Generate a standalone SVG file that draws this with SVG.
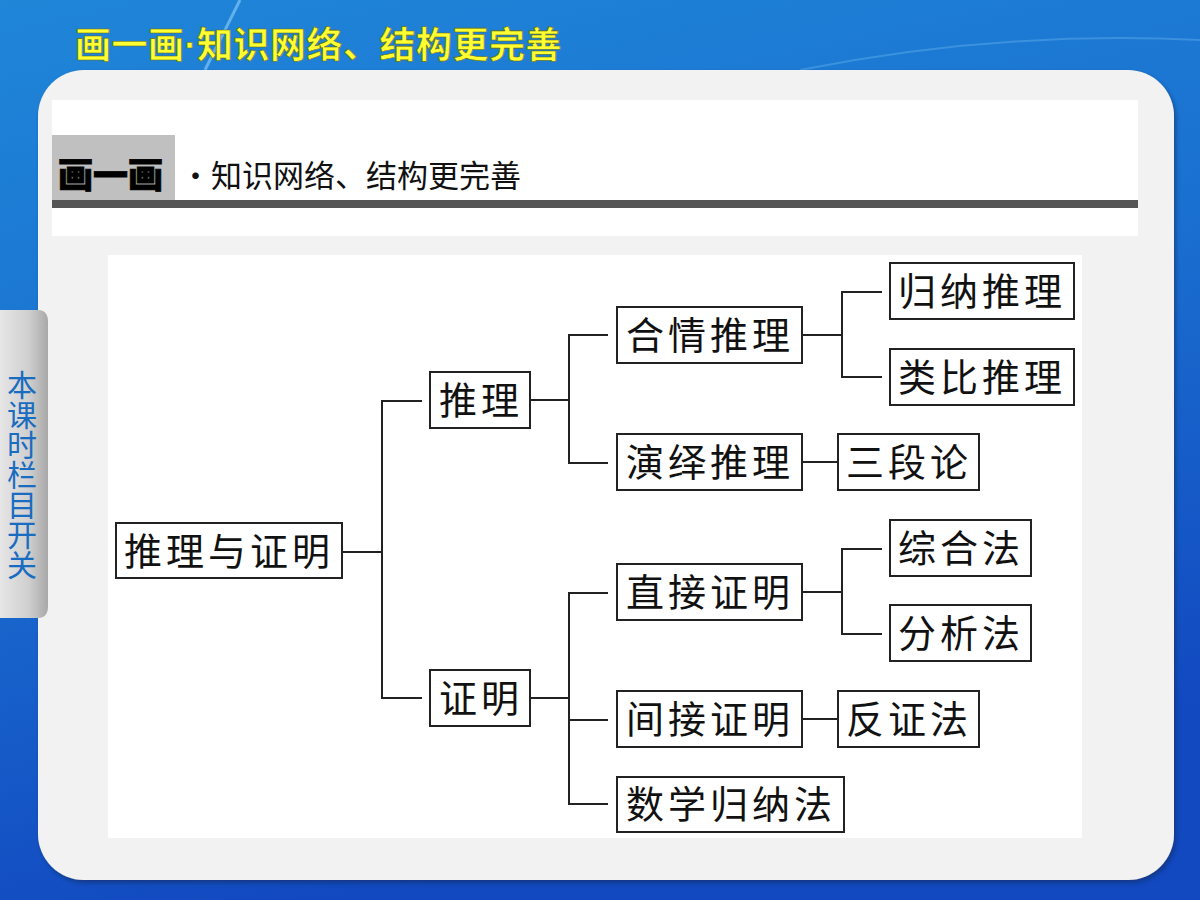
<svg xmlns="http://www.w3.org/2000/svg" width="1200" height="900" viewBox="0 0 1200 900">
<defs>
<linearGradient id="bg" x1="0" y1="0" x2="0.3" y2="1">
<stop offset="0" stop-color="#1f86d8"/>
<stop offset="0.5" stop-color="#1a6fd0"/>
<stop offset="1" stop-color="#1248c0"/>
</linearGradient>
<linearGradient id="tab" x1="0" y1="0" x2="1" y2="0">
<stop offset="0" stop-color="#e6e6e6"/>
<stop offset="0.6" stop-color="#cfcfcf"/>
<stop offset="1" stop-color="#a8a8a8"/>
</linearGradient>
<filter id="sh" x="-5%" y="-5%" width="110%" height="110%">
<feDropShadow dx="2" dy="3" stdDeviation="2" flood-color="#0a2a60" flood-opacity="0.6"/>
</filter>
<style>
.box{fill:#fff;stroke:#222;stroke-width:2}
.t{font-family:"Noto Sans CJK SC","Noto Sans",sans-serif;font-size:38px;fill:#111;letter-spacing:4px}
.c{stroke:#222;stroke-width:2;fill:none}
</style>
</defs>
<rect width="1200" height="900" fill="url(#bg)"/>
<path d="M240 0 L205 70" stroke="#7fc4f5" stroke-width="3" opacity="0.7"/>
<path d="M800 70 Q1000 30 1200 40" stroke="#5aaae8" stroke-width="2" fill="none" opacity="0.5"/>
<text x="75" y="58" font-family="'Noto Sans CJK SC',sans-serif" font-size="36" font-weight="bold" letter-spacing="0.5" fill="#ffff33" stroke="#6a6a00" stroke-width="0.6">画一画<tspan font-family="'Liberation Sans',sans-serif">·</tspan>知识网络、结构更完善</text>
<rect x="38" y="70" width="1136" height="810" rx="46" fill="#f2f2f2" filter="url(#sh)"/>
<rect x="52" y="100" width="1086" height="136" fill="#fff"/>
<rect x="52" y="135" width="123" height="65" fill="#c0c0c0"/>
<rect x="52" y="200" width="1086" height="8" fill="#555"/>
<text x="58" y="188" font-family="'Noto Sans CJK SC',sans-serif" font-size="35" font-weight="900" fill="#000" stroke="#000" stroke-width="0.8">画一画</text>
<text x="180" y="187" font-family="'Noto Sans CJK SC',sans-serif" font-size="31" fill="#111">·知识网络、结构更完善</text>
<rect x="108" y="255" width="974" height="583" fill="#fff"/>
<g id="tabgrp">
<path d="M0 310 H38 Q48 310 48 322 V606 Q48 618 38 618 H0 Z" fill="url(#tab)"/>
<text x="22" y="370" writing-mode="tb" font-family="'Noto Sans CJK SC',sans-serif" font-size="30" fill="#1a6cc0">本课时栏目开关</text>
</g>
<g id="connectors">
<path class="c" d="M342 552 H382 M422 401 H382 V698 H422"/>
<path class="c" d="M530 400 H568 M608 335 H569 V463 H608"/>
<path class="c" d="M530 698 H568 M608 593 H569 V804 H608 M569 720 H608"/>
<path class="c" d="M802 335 H842 M882 292 H842 V377 H882"/>
<path class="c" d="M802 462 H838"/>
<path class="c" d="M802 592 H842 M882 549 H842 V634 H882"/>
<path class="c" d="M802 719 H838"/>
</g>
<g id="n-root"><rect class="box" x="116" y="523" width="226" height="55"/><text class="t" x="124" y="565">推理与证明</text></g>
<g id="n-tuili"><rect class="box" x="430" y="372" width="100" height="56"/><text class="t" x="439" y="414">推理</text></g>
<g id="n-zhengming"><rect class="box" x="430" y="670" width="100" height="56"/><text class="t" x="439" y="712">证明</text></g>
<g id="n-heqing"><rect class="box" x="617" y="307" width="185" height="56"/><text class="t" x="626" y="349">合情推理</text></g>
<g id="n-yanyi"><rect class="box" x="617" y="434" width="185" height="56"/><text class="t" x="626" y="476">演绎推理</text></g>
<g id="n-guina"><rect class="box" x="890" y="263" width="184" height="56"/><text class="t" x="898" y="305">归纳推理</text></g>
<g id="n-leibi"><rect class="box" x="890" y="349" width="184" height="56"/><text class="t" x="898" y="391">类比推理</text></g>
<g id="n-sanduan"><rect class="box" x="838" y="434" width="141" height="56"/><text class="t" x="846" y="476">三段论</text></g>
<g id="n-zhijie"><rect class="box" x="617" y="564" width="185" height="56"/><text class="t" x="626" y="606">直接证明</text></g>
<g id="n-zonghe"><rect class="box" x="890" y="520" width="141" height="56"/><text class="t" x="898" y="562">综合法</text></g>
<g id="n-fenxi"><rect class="box" x="890" y="605" width="141" height="56"/><text class="t" x="898" y="647">分析法</text></g>
<g id="n-jianjie"><rect class="box" x="617" y="691" width="185" height="56"/><text class="t" x="626" y="733">间接证明</text></g>
<g id="n-fanzheng"><rect class="box" x="838" y="691" width="141" height="56"/><text class="t" x="846" y="733">反证法</text></g>
<g id="n-shuxue"><rect class="box" x="617" y="777" width="227" height="55"/><text class="t" x="626" y="818">数学归纳法</text></g>
</svg>
